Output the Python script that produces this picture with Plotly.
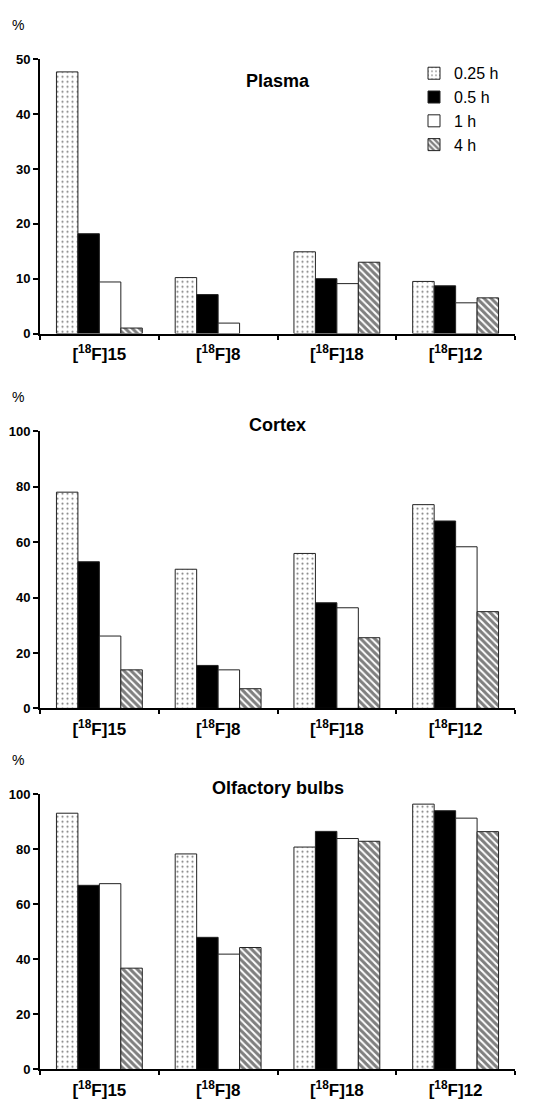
import plotly.graph_objects as go

compounds = ["[<sup>18</sup>F]15", "[<sup>18</sup>F]8", "[<sup>18</sup>F]18", "[<sup>18</sup>F]12"]
times = ["0.25 h", "0.5 h", "1 h", "4 h"]

plasma_025 = [47.7, 10.2, 14.9, 9.5]
plasma_05 = [18.2, 7.1, 10.0, 8.7]
plasma_1 = [9.4, 1.9, 9.1, 5.6]
plasma_4 = [1.0, None, 13.0, 6.5]

cortex_025 = [78.0, 50.2, 55.9, 73.5]
cortex_05 = [52.9, 15.5, 38.1, 67.6]
cortex_1 = [26.1, 13.9, 36.3, 58.3]
cortex_4 = [13.9, 7.1, 25.5, 34.9]

bulbs_025 = [93.1, 78.3, 80.8, 96.4]
bulbs_05 = [66.9, 48.0, 86.5, 94.0]
bulbs_1 = [67.5, 41.9, 83.9, 91.3]
bulbs_4 = [36.8, 44.3, 82.9, 86.4]

panels = [
    ("Plasma", [plasma_025, plasma_05, plasma_1, plasma_4], 50, 10),
    ("Cortex", [cortex_025, cortex_05, cortex_1, cortex_4], 100, 20),
    ("Olfactory bulbs", [bulbs_025, bulbs_05, bulbs_1, bulbs_4], 100, 20),
]

FONT = "Liberation Sans, Arial, sans-serif"
W, H = 548, 1110
# pixel positions of each panel (top, bottom)
px_domains = [(53, 331), (430, 711), (798, 1077)]
title_px = [75, 424, 792]
x_left, x_right = 40, 515


def marker_for(i):
    line = dict(color="#222222", width=1)
    if i == 0:
        return dict(color="white", line=line,
                    pattern=dict(shape=".", fgcolor="black", bgcolor="white",
                                 size=5, solidity=0.14, fillmode="overlay"))
    if i == 1:
        return dict(color="black", line=line)
    if i == 2:
        return dict(color="white", line=line)
    return dict(color="white", line=line,
                pattern=dict(shape="\\", fgcolor="black", bgcolor="white",
                             size=5, solidity=0.6, fillmode="overlay"))


fig = go.Figure()
for p, (title, series, ymax, dtick) in enumerate(panels):
    ax = "" if p == 0 else str(p + 1)
    for i, vals in enumerate(series):
        fig.add_trace(go.Bar(
            x=compounds, y=vals, name=times[i],
            marker=marker_for(i),
            xaxis="x" + ax, yaxis="y" + ax,
            showlegend=(p == 0), legendrank=i,
        ))
    top, bot = px_domains[p]
    fig.layout["yaxis" + ax] = dict(
        domain=[1 - bot / H, 1 - top / H], range=[0, ymax], dtick=dtick,
        anchor="x" + ax, showgrid=False, zeroline=False,
        showline=True, linecolor="black", linewidth=2,
        ticks="outside", ticklen=5, tickwidth=2, tickcolor="black",
        tickfont=dict(family=FONT, size=13, color="black", weight="bold"),
        fixedrange=True,
    )
    fig.layout["xaxis" + ax] = dict(
        domain=[x_left / W, x_right / W], anchor="y" + ax,
        type="category", showgrid=False, zeroline=False,
        showline=True, linecolor="black", linewidth=2,
        ticks="outside", ticklen=4, tickwidth=2, tickcolor="black",
        tickson="boundaries", ticklabelstandoff=4,
        tickfont=dict(family=FONT, size=17, color="black", weight="bold"),
        fixedrange=True,
    )
    fig.add_annotation(text="%", xref="paper", yref="paper",
                       x=10 / W, y=1 - (top - 35) / H, xanchor="left", yanchor="middle",
                       showarrow=False, font=dict(family=FONT, size=14, color="black"))
    fig.add_annotation(text="<b>" + title + "</b>", xref="paper", yref="paper",
                       x=(x_left + x_right) / 2 / W,
                       y=1 - title_px[p] / H,
                       xanchor="center", yanchor="middle",
                       showarrow=False, font=dict(family=FONT, size=18, color="black"))

fig.update_layout(
    width=W, height=H,
    margin=dict(l=0, r=0, t=0, b=0),
    paper_bgcolor="white", plot_bgcolor="white",
    barmode="group", bargap=0.277, bargroupgap=0,
    font=dict(family=FONT, color="black"),
    legend=dict(x=414 / W, y=1 - 50 / H, xanchor="left", yanchor="top",
                font=dict(family=FONT, size=16, color="black"),
                bgcolor="rgba(0,0,0,0)", itemwidth=30, tracegroupgap=0),
)

fig.write_html("out.html")
